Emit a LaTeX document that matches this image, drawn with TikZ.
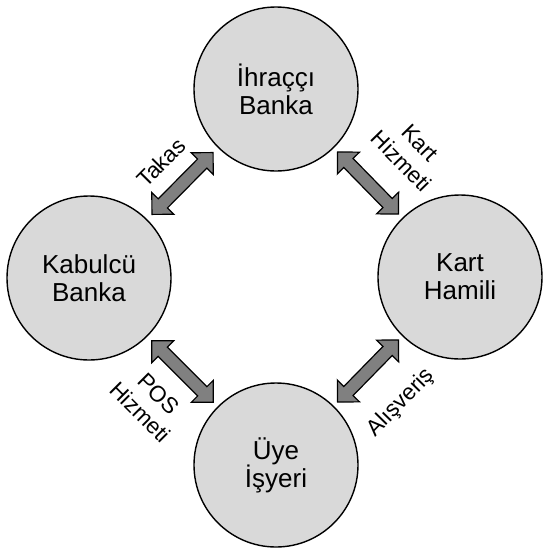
\documentclass[tikz,border=0pt]{standalone}
\usepackage{fontspec}
\setmainfont{Liberation Sans}
\usetikzlibrary{calc}
\colorlet{Disc}{black!15}
\colorlet{Shaft}{black!50}
\newcommand\fatarrow[2]{%
  \draw[fat] let \p1=($(#2)-(#1)$), \n1={atan2(\y1,\x1)} in
    ($(#1)!0.5!(#2)$) ++(\n1:43.5pt) -- ++(\n1+135:21.9pt)
    -- ++(\n1-90:9pt) -- ++(\n1+180:56pt) -- ++(\n1+90:9pt)
    -- ++(\n1+225:21.9pt) -- ++(\n1-45:21.9pt) -- ++(\n1+90:9pt)
    -- ++(\n1:56pt) -- ++(\n1-90:9pt) -- cycle;}

\begin{document}
\begin{tikzpicture}[
  x=1pt,
  y=-1pt,
  disc/.style={circle, draw, line width=1.4pt, fill=Disc,
    minimum size=164pt, inner sep=0pt, align=center,
    font=\fontsize{26}{28}\selectfont},
  fat/.style={line width=1.2pt, fill=Shaft, line join=miter},
  lbl/.style={sloped, align=center, inner sep=0pt,
    font=\fontsize{22.5}{26}\selectfont}
  ]
\useasboundingbox (0,0) rectangle (544,550);
\node[disc] (ihrac) at (276,89) {İhraççı\\Banka};
\node[disc] (kabul) at (89,278) {Kabulcü\\Banka};
\node[disc] (kart) at (460,277) {Kart\\Hamili};
\node[disc] (uye) at (276,465) {Üye\\İşyeri};
\fatarrow{kabul}{ihrac}
\fatarrow{ihrac}{kart}
\fatarrow{kabul}{uye}
\fatarrow{uye}{kart}
\path (kabul) -- node[lbl, yshift=30pt] (takas) {Takas} (ihrac);
\path (ihrac) -- node[lbl, pos=0.58, yshift=52pt] (hizmet) {Kart\\Hizmeti} (kart);
\path (kabul) -- node[lbl, pos=0.49, yshift=-46pt] (pos) {POS\\Hizmeti} (uye);
\path (uye) -- node[lbl, yshift=-46pt] (alis) {Alışveriş} (kart);
\end{tikzpicture}
\end{document}
